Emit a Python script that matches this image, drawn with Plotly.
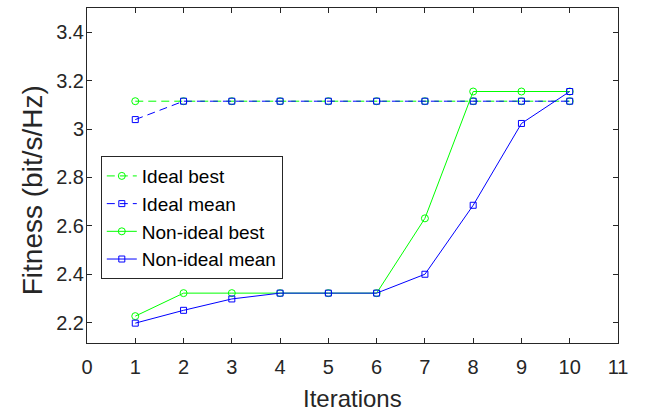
import plotly.graph_objects as go

iterations = [1, 2, 3, 4, 5, 6, 7, 8, 9, 10]
ideal_best = [3.115, 3.115, 3.115, 3.115, 3.115, 3.115, 3.115, 3.115, 3.115, 3.115]
ideal_mean = [3.039, 3.115, 3.115, 3.115, 3.115, 3.115, 3.115, 3.115, 3.115, 3.115]
nonideal_best = [2.227, 2.322, 2.322, 2.322, 2.322, 2.322, 2.631, 3.155, 3.155, 3.155]
nonideal_mean = [2.198, 2.251, 2.298, 2.322, 2.322, 2.322, 2.400, 2.685, 3.023, 3.155]

x_ticks = list(range(0, 12))
y_ticks = [2.2, 2.4, 2.6, 2.8, 3.0, 3.2, 3.4]
y_tick_text = ["2.2", "2.4", "2.6", "2.8", "3", "3.2", "3.4"]

GREEN = "#00FF00"
BLUE = "#0000FF"
FONT = "Liberation Sans, Arial, sans-serif"

fig = go.Figure()

series = [
    ("Ideal best", ideal_best, GREEN, "circle-open", 7, "8px,5px"),
    ("Ideal mean", ideal_mean, BLUE, "square-open", 6, "8px,5px"),
    ("Non-ideal best", nonideal_best, GREEN, "circle-open", 7, "solid"),
    ("Non-ideal mean", nonideal_mean, BLUE, "square-open", 6, "solid"),
]
for name, vals, color, symbol, size, dash in series:
    fig.add_trace(go.Scatter(
        x=iterations, y=vals, name=name, mode="lines+markers",
        line=dict(color=color, width=1, dash=dash),
        marker=dict(symbol=symbol, size=size, color=color,
                    line=dict(color=color, width=1)),
    ))

axis_common = dict(
    showline=True, linecolor="#262626", linewidth=1, mirror="ticks",
    ticks="inside", ticklen=5, tickcolor="#262626", tickwidth=1,
    showgrid=False, zeroline=False,
    tickfont=dict(family=FONT, size=20, color="#262626"),
)

fig.update_layout(
    width=652, height=412,
    margin=dict(l=87, r=34, t=8, b=69),
    paper_bgcolor="white", plot_bgcolor="white",
    showlegend=True,
    legend=dict(
        x=0.026, y=0.558, xanchor="left", yanchor="top",
        bgcolor="white", bordercolor="#262626", borderwidth=1,
        font=dict(family=FONT, size=19, color="black"),
        tracegroupgap=0, itemwidth=30,
    ),
    xaxis=dict(range=[0, 11], tickvals=x_ticks, ticklabelstandoff=6,
               **axis_common),
    yaxis=dict(range=[2.116, 3.5], tickvals=y_ticks, ticktext=y_tick_text,
               ticklabelstandoff=-2, **axis_common),
    annotations=[
        dict(text="Iterations", xref="paper", yref="paper", x=0.5, y=0,
             xanchor="center", yanchor="middle", yshift=-55, showarrow=False,
             font=dict(family=FONT, size=24, color="#262626")),
        dict(text="Fitness (bit/s/Hz)", xref="paper", yref="paper",
             x=0, y=0.456, xanchor="center", yanchor="middle", xshift=-55,
             textangle=-90, showarrow=False,
             font=dict(family=FONT, size=28, color="#262626")),
    ],
)

fig.write_html("out.html")
